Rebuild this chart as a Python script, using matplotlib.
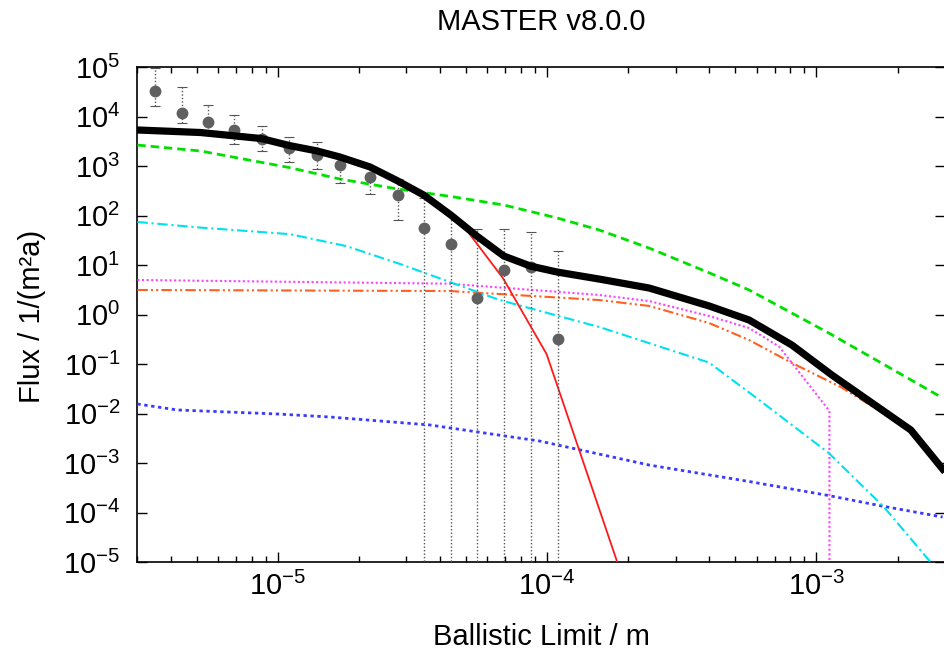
import matplotlib
matplotlib.use("Agg")
import matplotlib.pyplot as plt
import numpy as np

plt.rcParams['font.family'] = ['Liberation Sans', 'DejaVu Sans']
plt.rcParams['mathtext.default'] = 'regular'

# ---- data ----
total_x = [3.01e-6, 5.16e-6, 8.68e-6, 1.10e-5, 1.40e-5, 1.70e-5, 2.20e-5, 2.79e-5, 3.48e-5,
           4.39e-5, 5.48e-5, 6.9e-5, 8.68e-5, 1.09e-4, 1.56e-4, 2.39e-4, 3.99e-4, 5.62e-4,
           8.1e-4, 1.14e-3, 2.24e-3, 2.94e-3]
total_y = [5.34e3, 4.75e3, 3.59e3, 2.6e3, 2.01e3, 1.52e3, 955, 498, 259,
           102, 38.5, 15.2, 9.5, 7.2, 5.2, 3.43, 1.49, 0.774,
           0.242, 0.060, 4.64e-3, 7.57e-4]

green_x = [3.01e-6, 5.16e-6, 1.10e-5, 1.70e-5, 2.79e-5, 4.39e-5, 6.9e-5, 1.09e-4, 1.56e-4,
           2.39e-4, 3.99e-4, 5.62e-4, 1.11e-3, 2.94e-3]
green_y = [2.65e3, 2.01e3, 933, 546, 343, 242, 163, 89, 51,
           22, 6.98, 3.13, 0.423, 0.0206]

cyan_x = [3.01e-6, 5.16e-6, 1.11e-5, 1.8e-5, 2.84e-5, 6.66e-5, 1.56e-4, 3.99e-4, 6.12e-4,
          1.11e-3, 1.78e-3, 2.65e-3, 2.94e-3]
cyan_y = [74, 57, 42, 24, 10.5, 1.96, 0.559, 0.107, 0.0188,
          1.59e-3, 1.29e-4, 1e-5, 5.2e-6]

magenta_x = [3.01e-6, 4.35e-5, 1.56e-4, 2.39e-4, 3.99e-4, 5.62e-4, 7.27e-4, 1.117e-3, 1.117e-3]
magenta_y = [4.98, 4.19, 2.48, 1.87, 0.933, 0.533, 0.224, 0.01125, 1e-7]

orange_x = [3.01e-6, 4.35e-5, 1.56e-4, 2.39e-4, 3.99e-4, 5.62e-4, 8.1e-4, 1.23e-3, 2.24e-3, 2.94e-3]
orange_y = [3.13, 2.98, 1.96, 1.49, 0.673, 0.305, 0.105, 0.0343, 4.64e-3, 7.57e-4]

blue_x = [3.01e-6, 4.24e-6, 1.0e-5, 1.56e-5, 3.67e-5, 9.37e-5, 2.39e-4, 5.62e-4, 1.11e-3,
          1.75e-3, 2.94e-3]
blue_y = [0.01556, 0.01178, 9.77e-3, 8.5e-3, 5.86e-3, 2.78e-3, 9.1e-4, 4.23e-4, 2.2e-4,
          1.35e-4, 8.1e-5]

red_x = [2.79e-5, 3.48e-5, 4.39e-5, 5.02e-5, 6.86e-5, 9.95e-5, 1.82e-4, 1.94e-4]
red_y = [498, 259, 89, 51, 5.38, 0.159, 1e-5, 3.77e-6]

meas_x = [3.5e-6, 4.4e-6, 5.5e-6, 6.9e-6, 8.7e-6, 1.1e-5, 1.4e-5, 1.7e-5,
          2.2e-5, 2.8e-5, 3.5e-5, 4.4e-5, 5.5e-5, 6.9e-5, 8.7e-5, 1.1e-4]
meas_y = [3.27e4, 1.18e4, 7.7e3, 5.4e3, 3.56e3, 2.31e3, 1.67e3, 1.05e3,
          608, 256, 56.8, 26.2, 2.15, 7.8, 9.25, 0.315]
meas_hi = [9.5e4, 3.9e4, 1.7e4, 1.06e4, 6.3e3, 3.9e3, 3.05e3, 1.55e3,
           968, 538, 222, 102, 53, 53, 47, 19.5]
meas_lo = [1.65e4, 7.3e3, 4.3e3, 2.82e3, 2.0e3, 1.19e3, 858, 460,
           272, 81, 1e-7, 1e-7, 1e-7, 1e-7, 1e-7, 1e-7]

title = "MASTER v8.0.0"
xlabel = "Ballistic Limit / m"
ylabel = "Flux / 1/(m²a)"

# ---- figure ----
W, H = 944, 654
fig = plt.figure(figsize=(W / 100, H / 100), dpi=100)
L, R, T, B = 137, 945, 67, 562
ax = fig.add_axes([L / W, 1 - B / H, (R - L) / W, (B - T) / H])
ax.set_xscale('log')
ax.set_yscale('log')
ax.set_xlim(3e-6, 3e-3)
ax.set_ylim(1e-5, 1e5)

ax.plot(blue_x, blue_y, color='#3a3aff', lw=2.0, dashes=(1.2, 1.3), zorder=3)
ax.plot(orange_x, orange_y, color='#ff6020', lw=1.5, dashes=(5, 1.5, 1, 1.5, 1, 1.5), zorder=3)
ax.plot(magenta_x, magenta_y, color='#ff40ff', lw=1.5, dashes=(1, 1.2), zorder=3)
ax.plot(cyan_x, cyan_y, color='#00e0f0', lw=1.5, dashes=(5, 1.8, 1, 1.8), zorder=3)
ax.plot(green_x, green_y, color='#00e000', lw=2.0, dashes=(3, 1.8), zorder=3)
ax.plot(red_x, red_y, color='#ff1a1a', lw=1.3, zorder=3)

yerr = [np.array(meas_y) - np.array(meas_lo), np.array(meas_hi) - np.array(meas_y)]
eb = ax.errorbar(meas_x, meas_y, yerr=yerr, fmt='o', color='#606060', ms=7.5,
                 ecolor='#555555', elinewidth=1.0, capsize=3.5, capthick=0.8, zorder=4)
for c in eb[2]:
    c.set_linestyle((0, (1, 1.5)))
for cl in eb[1]:
    cl.set_color('#8a8a8a')

ax.plot(total_x, total_y, color='black', lw=5.2, solid_joinstyle='miter', zorder=5)

ax.tick_params(which='both', direction='in', top=True, right=True, labelsize=21, width=1)
ax.tick_params(which='major', length=7)
ax.tick_params(which='minor', length=4)
ax.tick_params(axis='x', which='major', pad=7)
ax.tick_params(axis='y', which='major', pad=12)
ax.yaxis.set_major_locator(matplotlib.ticker.LogLocator(base=10, numticks=20))
ax.yaxis.set_minor_locator(matplotlib.ticker.NullLocator())
for s in ax.spines.values():
    s.set_linewidth(1.2)

fig.text(541 / W, 1 - 22 / H, title, ha='center', va='center', fontsize=21)
fig.text(541 / W, 1 - 637 / H, xlabel, ha='center', va='center', fontsize=21)
fig.text(32 / W, 1 - 316 / H, ylabel, ha='center', va='center', rotation=90, fontsize=21)

fig.savefig('out.png', dpi=100)
